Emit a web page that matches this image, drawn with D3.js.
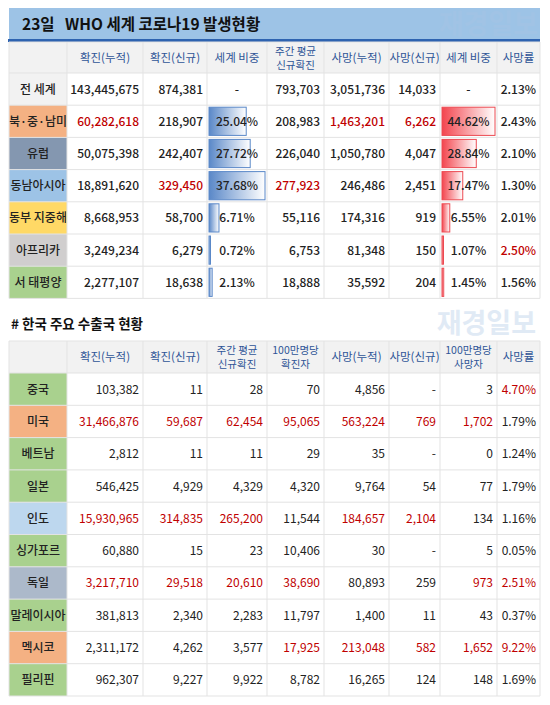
<!DOCTYPE html>
<html><head><meta charset="utf-8">
<script src="https://cdn.jsdelivr.net/npm/d3@7"></script>
<style>body{margin:0;background:#fff}text{font-family:"Noto Sans CJK KR",sans-serif}</style>
</head><body><svg id="c" width="550" height="705"></svg>
<script>
// WHO regional table
const regionHeaders = ["", "확진(누적)", "확진(신규)", "세계 비중", "주간 평균|신규확진", "사망(누적)", "사망(신규)", "세계 비중", "사망률"]
const regions = ["전 세계", "북·중·남미", "유럽", "동남아시아", "동부 지중해", "아프리카", "서 태평양"]
const regionColors = ["#f2f2f2", "#f4b183", "#8497b0", "#9dc3e6", "#ffd966", "#d0cece", "#a9d18e"]
const cases = ["143,445,675", "60,282,618", "50,075,398", "18,891,620", "8,668,953", "3,249,234", "2,277,107"]
const newCases = ["874,381", "218,907", "242,407", "329,450", "58,700", "6,279", "18,638"]
const caseShare = [null, 25.04, 27.72, 37.68, 6.71, 0.72, 2.13]
const weeklyAvg = ["793,703", "208,983", "226,040", "277,923", "55,116", "6,753", "18,888"]
const deaths = ["3,051,736", "1,463,201", "1,050,780", "246,486", "174,316", "81,348", "35,592"]
const newDeaths = ["14,033", "6,262", "4,047", "2,451", "919", "150", "204"]
const deathShare = [null, 44.62, 28.84, 17.47, 6.55, 1.07, 1.45]
const deathRate = ["2.13%", "2.43%", "2.10%", "1.30%", "2.01%", "2.50%", "1.56%"]
// red-highlighted cells: [row, col]
const regionRed = [[1,1],[1,5],[1,6],[3,2],[3,4],[5,8]]

// Korea export partners table
const countryHeaders = ["", "확진(누적)", "확진(신규)", "주간 평균|신규확진", "100만명당|확진자", "사망(누적)", "사망(신규)", "100만명당|사망자", "사망률"]
const countries = ["중국", "미국", "베트남", "일본", "인도", "싱가포르", "독일", "말레이시아", "멕시코", "필리핀"]
const countryColors = ["#a9d18e", "#f4b183", "#a9d18e", "#a9d18e", "#bdd7ee", "#a9d18e", "#acb9ca", "#a9d18e", "#f4b183", "#a9d18e"]
const cCases = ["103,382", "31,466,876", "2,812", "546,425", "15,930,965", "60,880", "3,217,710", "381,813", "2,311,172", "962,307"]
const cNew = ["11", "59,687", "11", "4,929", "314,835", "15", "29,518", "2,340", "4,262", "9,227"]
const cWeekly = ["28", "62,454", "11", "4,329", "265,200", "23", "20,610", "2,283", "3,577", "9,922"]
const cPerMil = ["70", "95,065", "29", "4,320", "11,544", "10,406", "38,690", "11,797", "17,925", "8,782"]
const cDeaths = ["4,856", "563,224", "35", "9,764", "184,657", "30", "80,893", "1,400", "213,048", "16,265"]
const cNewDeaths = ["-", "769", "-", "54", "2,104", "-", "259", "11", "582", "124"]
const cDeathPerMil = ["3", "1,702", "0", "77", "134", "5", "973", "43", "1,652", "148"]
const cRate = ["4.70%", "1.79%", "1.24%", "1.79%", "1.16%", "0.05%", "2.51%", "0.37%", "9.22%", "1.69%"]
const countryRed = [[0,8],[1,1],[1,2],[1,3],[1,4],[1,5],[1,6],[1,7],[4,1],[4,2],[4,3],[4,5],[4,6],
  [6,1],[6,2],[6,3],[6,4],[6,7],[6,8],[8,4],[8,5],[8,6],[8,7],[8,8]]

const svg = d3.select("#c")
const colEdges = [9, 67, 143, 207, 267, 324, 389, 440, 497, 540]
const grid = "#e3e3e3", red = "#c00000", headBlue = "#2f5597"

const defs = svg.append("defs")
function grad(id, col) {
  const g = defs.append("linearGradient").attr("id", id)
  g.append("stop").attr("offset", "0%").attr("stop-color", col)
  g.append("stop").attr("offset", "100%").attr("stop-color", "#fff")
}
grad("gb", "#5a88c8"); grad("gr", "#f3454e")

function watermark(x, y) {
  svg.append("text").attr("x", x).attr("y", y).attr("font-size", 27).attr("font-weight", 700)
    .attr("fill", "#a9c4e4").attr("opacity", 0.35).attr("text-anchor", "end").text("재경일보")
}

function drawTable(top, headH, rowH, headers, labels, colors, rows, reds, bars, headBg, bold) {
  const n = labels.length
  const yRow = d3.scaleLinear().domain([0, n]).range([top + headH, top + headH + n * rowH])
  // header
  svg.append("rect").attr("x", colEdges[0]).attr("y", top).attr("width", colEdges[9] - colEdges[0])
    .attr("height", headH).attr("fill", headBg)
  headers.forEach((h, i) => {
    const lines = h.split("|"), cx = (colEdges[i] + colEdges[i + 1]) / 2
    const two = lines.length > 1
    lines.forEach((l, j) => svg.append("text").attr("x", cx)
      .attr("y", top + headH / 2 + 4 + (j - (lines.length - 1) / 2) * 14)
      .attr("text-anchor", "middle").attr("font-size", two ? 10.5 : 11.5).attr("fill", headBlue).text(l))
  })
  const isRed = (r, c) => reds.some(d => d[0] === r && d[1] === c)
  labels.forEach((lab, r) => {
    const y0 = yRow(r)
    svg.append("rect").attr("x", colEdges[0]).attr("y", y0).attr("width", colEdges[1] - colEdges[0])
      .attr("height", rowH).attr("fill", colors[r])
    svg.append("text").attr("x", (colEdges[0] + colEdges[1]) / 2).attr("y", y0 + rowH / 2 + 4.5)
      .attr("text-anchor", "middle").attr("font-size", 12).attr("font-weight", 500)
      .attr("fill", "#222").text(lab)
    rows.forEach((col, ci) => {
      const c = ci + 1, v = col[r]
      const bar = bars[c]
      let txt = v, anchor = "end", tx = colEdges[c + 1] - 4
      if (bar) {
        const vals = col.filter(d => d != null)
        const w = d3.scaleLinear().domain([0, d3.max(vals)]).range([0, colEdges[c + 1] - colEdges[c] - 4])
        if (v == null) { txt = "-" }
        else {
          svg.append("rect").attr("x", colEdges[c] + 2).attr("y", y0 + 2).attr("width", Math.max(w(v), 1.5))
            .attr("height", rowH - 4).attr("fill", "url(#" + bar + ")")
            .attr("stroke", bar === "gb" ? "#5a88c8" : "#ec4a52").attr("stroke-width", 1)
          txt = v.toFixed(2) + "%"
        }
        anchor = "middle"; tx = (colEdges[c] + colEdges[c + 1]) / 2
      }
      svg.append("text").attr("x", tx).attr("y", y0 + rowH / 2 + 4.5).attr("text-anchor", anchor)
        .attr("font-size", 12).attr("font-weight", bold ? 500 : 400)
        .attr("fill", isRed(r, c) ? red : "#222").text(txt)
    })
  })
  // grid lines
  const bottom = yRow(n)
  colEdges.forEach(x => svg.append("line").attr("x1", x).attr("x2", x).attr("y1", top).attr("y2", bottom)
    .attr("stroke", grid))
  d3.range(n + 1).forEach(r => svg.append("line").attr("x1", colEdges[0]).attr("x2", colEdges[9])
    .attr("y1", yRow(r)).attr("y2", yRow(r)).attr("stroke", grid))
  svg.append("line").attr("x1", colEdges[0]).attr("x2", colEdges[9]).attr("y1", top).attr("y2", top).attr("stroke", grid)
}

// top title band
svg.append("rect").attr("x", 9).attr("y", 8).attr("width", 531).attr("height", 32).attr("fill", "#9dc3e6")
svg.append("rect").attr("x", 8).attr("y", 39).attr("width", 532).attr("height", 3).attr("fill", "#2e63b0")
svg.append("text").attr("x", 22).attr("y", 30).attr("font-size", 15.5).attr("font-weight", 700)
  .attr("fill", "#111").attr("xml:space", "preserve").text("23일   WHO 세계 코로나19 발생현황")
watermark(538, 34)

drawTable(42, 31, 32.2, regionHeaders, regions, regionColors,
  [cases, newCases, caseShare, weeklyAvg, deaths, newDeaths, deathShare, deathRate],
  regionRed, { 3: "gb", 7: "gr" }, "#f2f2f2", true)

// bottom section
svg.append("text").attr("x", 11).attr("y", 329).attr("font-size", 13.5).attr("font-weight", 700)
  .attr("fill", "#111").text("# 한국 주요 수출국 현황")
watermark(536, 333)

drawTable(341, 32, 32.3, countryHeaders, countries, countryColors,
  [cCases, cNew, cWeekly, cPerMil, cDeaths, cNewDeaths, cDeathPerMil, cRate],
  countryRed, {}, "#f2f2f2", false)
</script></body></html>
